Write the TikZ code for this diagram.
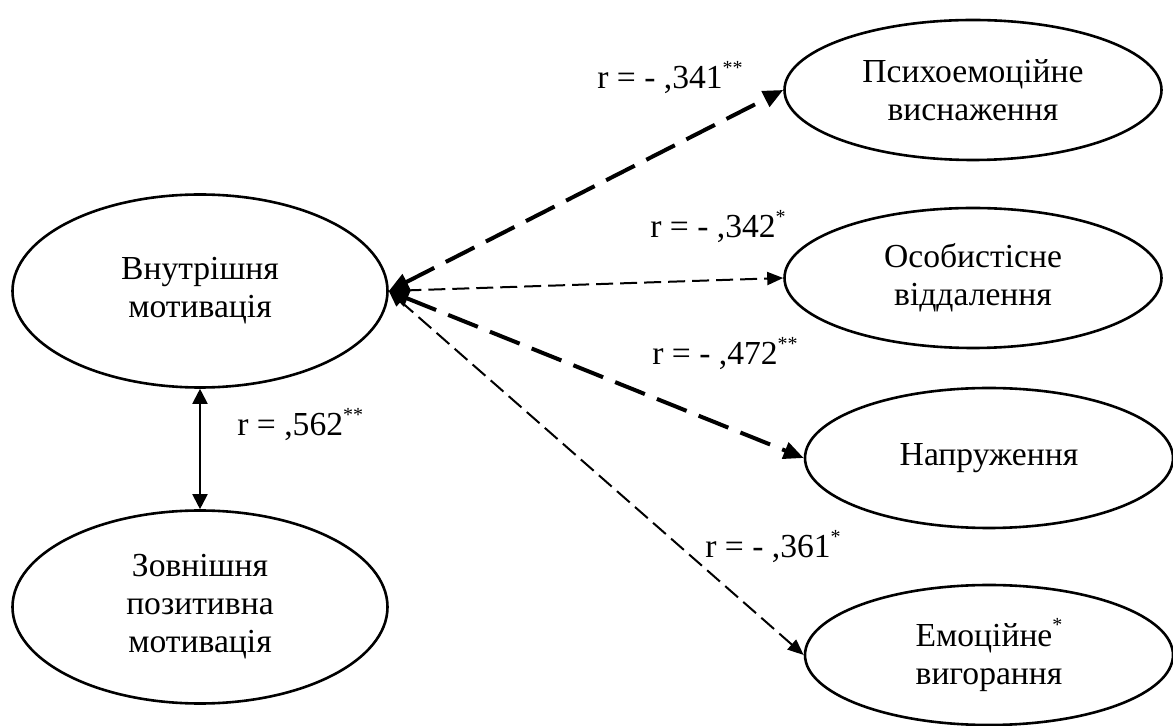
\documentclass[tikz,border=0pt]{standalone}
\usepackage{fontspec}
\setmainfont{Liberation Serif}
\usetikzlibrary{shapes.geometric,arrows.meta}
\newcommand{\sast}[1]{\raisebox{0.95ex}{\fontsize{10}{10}\selectfont #1}}
\begin{document}
\begin{tikzpicture}[x=0.5pt,y=-0.5pt,
  every node/.style={font=\fontsize{16.8}{19}\selectfont},
  oval/.style={ellipse, draw, line width=1.3pt, inner sep=0pt, align=center},
  thickdash/.style={line width=2pt, dash pattern=on 16pt off 6.5pt, {Triangle[length=10pt,width=8.5pt]}-{Triangle[length=10pt,width=8.5pt]}},
  thindash/.style={line width=1pt, dash pattern=on 8.5pt off 3.5pt, {Triangle[length=8pt,width=6.5pt]}-{Triangle[length=8pt,width=6.5pt]}},
  solidarr/.style={line width=1pt, {Triangle[length=7.5pt,width=7.5pt]}-{Triangle[length=7.5pt,width=7.5pt]}},
  lbl/.style={anchor=base west, inner sep=0pt}
]
\useasboundingbox (0,0) rectangle (1173,726);
\node[oval, minimum width=187.5pt, minimum height=96.5pt] (in) at (200,291) {Внутрішня\\мотивація};
\node[oval, minimum width=187.5pt, minimum height=96.5pt] (zov) at (200,607) {Зовнішня\\позитивна\\мотивація};
\node[oval, minimum width=188.5pt, minimum height=70pt] (psy) at (973,90) {Психоемоційне\\виснаження};
\node[oval, minimum width=188.5pt, minimum height=70pt] (os) at (973,278) {Особистісне\\віддалення};
\node[oval, minimum width=184pt, minimum height=70pt] (nap) at (989,458) {Напруження};
\node[oval, minimum width=184pt, minimum height=70pt] (em) at (989,655) {Емоційне\sast{*}\\вигорання};
\draw[thickdash] (in.east) -- (psy.west);
\draw[thindash] (in.east) -- (os.west);
\draw[thickdash] (in.east) -- (nap.west);
\draw[thindash] (in.east) -- (em.west);
\draw[solidarr] (in.south) -- (zov.north);
\node[lbl] (l1) at (597,89) {r = - ,341\sast{**}};
\node[lbl] (l2) at (650,238) {r = - ,342\sast{*}};
\node[lbl] (l3) at (652,365) {r = - ,472\sast{**}};
\node[lbl] (l4) at (237,436) {r = ,562\sast{**}};
\node[lbl] (l5) at (705,558) {r = - ,361\sast{*}};
\end{tikzpicture}
\end{document}
